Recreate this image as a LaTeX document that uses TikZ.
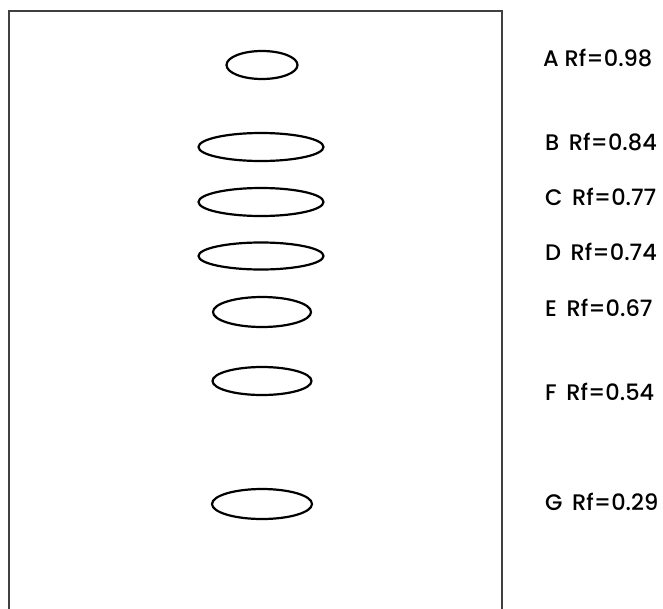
\documentclass[tikz,border=0pt]{standalone}
\usepackage{fontspec}
\setmainfont{Poppins}[UprightFont=* Medium]
\usetikzlibrary{shapes.geometric}
\tikzset{
  spot/.style={draw=black, ellipse, inner sep=0pt, line width=2.2pt},
  rflabel/.style={anchor=west, inner sep=0pt, font=\fontsize{22.5}{24}\selectfont, text=black},
  plate/.style={draw=black!75, line width=1.8pt}
}
\begin{document}
\begin{tikzpicture}[x=1pt,y=-1pt]
\useasboundingbox (0,0) rectangle (663,608);
\coordinate (pbl) at (9,610);
\coordinate (ptl) at (9,11);
\coordinate (ptr) at (502,11);
\coordinate (pbr) at (502,610);
\draw[plate] (pbl) -- (ptl) -- (ptr) -- (pbr);
\node[spot, minimum width=71pt, minimum height=28pt] (sA) at (262,65) {};
\node[spot, minimum width=125pt, minimum height=28pt] (sB) at (261,147) {};
\node[spot, minimum width=125pt, minimum height=28pt] (sC) at (261,202) {};
\node[spot, minimum width=125pt, minimum height=27pt] (sD) at (261,256) {};
\node[spot, minimum width=98pt, minimum height=30pt] (sE) at (262,312) {};
\node[spot, minimum width=99pt, minimum height=28pt] (sF) at (262,381) {};
\node[spot, minimum width=100pt, minimum height=30pt] (sG) at (262,504) {};
\node[rflabel] (lA) at (543,58) {A Rf=0.98};
\node[rflabel] (lB) at (545,142) {B\, Rf=0.84};
\node[rflabel] (lC) at (545,197) {C\, Rf=0.77};
\node[rflabel] (lD) at (545,252) {D\, Rf=0.74};
\node[rflabel] (lE) at (545,308) {E\, Rf=0.67};
\node[rflabel] (lF) at (545,392) {F\, Rf=0.54};
\node[rflabel] (lG) at (545,502) {G\, Rf=0.29};
\end{tikzpicture}
\end{document}
